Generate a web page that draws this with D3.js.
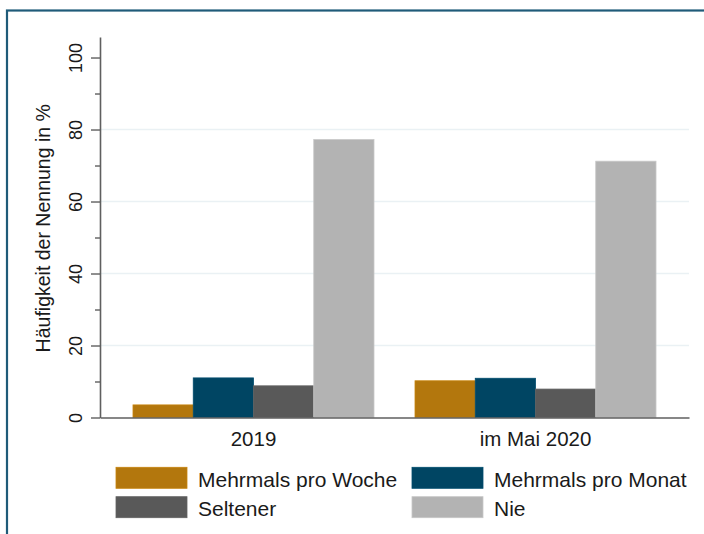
<!DOCTYPE html>
<html>
<head>
<meta charset="utf-8">
<script src="https://cdn.jsdelivr.net/npm/d3@7"></script>
<style>
  body { margin: 0; background: #fff; }
  svg { display: block; font-family: "Liberation Sans", Arial, sans-serif; }
</style>
</head>
<body>
<svg id="chart" width="704" height="534"></svg>
<script>
// data
const groups = ["2019", "im Mai 2020"];
const series = ["Mehrmals pro Woche", "Mehrmals pro Monat", "Seltener", "Nie"];
const colors = ["#b3770d", "#004563", "#595959", "#b3b3b3"];
const values2019 = [3.5, 11.0, 8.8, 77.2];
const values2020 = [10.2, 10.9, 7.9, 71.2];
const majorTicks = [0, 20, 40, 60, 80, 100];
const minorTicks = [10, 30, 50, 70, 90];
const gridTicks = [20, 40, 60, 80];
const yTitle = "Häufigkeit der Nennung in %";

const allValues = [values2019, values2020];

const svg = d3.select("#chart");
const plotLeft = 100, plotRight = 689, plotTop = 37, plotBottom = 417.5;

// outer frame
svg.append("rect")
  .attr("x", 7)
  .attr("y", 10.5)
  .attr("width", 760)
  .attr("height", 600)
  .attr("fill", "none")
  .attr("stroke", "#1f5b79")
  .attr("stroke-width", 2.2);

const x0 = d3.scaleBand()
  .domain(groups)
  .range([plotLeft, plotRight])
  .paddingInner(0.1454)
  .paddingOuter(0.117);

const x1 = d3.scaleBand()
  .domain(series)
  .range([0, x0.bandwidth()]);

const y = d3.scaleLinear()
  .domain([0, 105.7])
  .range([plotBottom, plotTop]);

// gridlines
svg.append("g")
  .selectAll("line")
  .data(gridTicks)
  .enter()
  .append("line")
  .attr("x1", plotLeft)
  .attr("x2", plotRight)
  .attr("y1", (d) => y(d))
  .attr("y2", (d) => y(d))
  .attr("stroke", "#eaf1f4")
  .attr("stroke-width", 1.5);

// bars
const groupG = svg.append("g")
  .selectAll("g")
  .data(groups)
  .enter()
  .append("g")
  .attr("transform", (d) => `translate(${x0(d)},0)`);

groupG.selectAll("rect")
  .data((d, i) => allValues[i].map((v, j) => ({ key: series[j], value: v, color: colors[j] })))
  .enter()
  .append("rect")
  .attr("x", (d) => x1(d.key))
  .attr("width", x1.bandwidth())
  .attr("y", (d) => y(d.value))
  .attr("height", (d) => y(0) - y(d.value))
  .attr("fill", (d) => d.color)
  .attr("stroke", (d) => d3.color(d.color).brighter(0.3))
  .attr("stroke-width", 0.8);

// y axis, major
const yAxis = svg.append("g")
  .attr("transform", `translate(${plotLeft},0)`)
  .call(d3.axisLeft(y).tickValues(majorTicks).tickSize(9).tickSizeOuter(0));
yAxis.select(".domain").attr("stroke", "#5f5f5f").attr("stroke-width", 1.6);
yAxis.selectAll(".tick line").attr("stroke", "#5f5f5f").attr("stroke-width", 1.4);
yAxis.selectAll(".tick text")
  .attr("x", null)
  .attr("dy", null)
  .attr("transform", "translate(-18.3,0) rotate(-90)")
  .attr("text-anchor", "middle")
  .attr("fill", "#1a1a1a")
  .style("font-size", "18px");

// y axis, minor
const yMinor = svg.append("g")
  .attr("transform", `translate(${plotLeft},0)`)
  .call(d3.axisLeft(y).tickValues(minorTicks).tickSize(5).tickFormat(""));
yMinor.select(".domain").remove();
yMinor.selectAll(".tick line").attr("stroke", "#5f5f5f").attr("stroke-width", 1.4);

// x axis
const xAxis = svg.append("g")
  .attr("transform", `translate(0,${plotBottom})`)
  .call(d3.axisBottom(x0).tickSize(0).tickSizeOuter(0));
xAxis.select(".domain").attr("stroke", "#5f5f5f").attr("stroke-width", 1.6);
xAxis.selectAll(".tick text")
  .attr("y", 28.5)
  .attr("dy", null)
  .attr("fill", "#1a1a1a")
  .style("font-size", "20.5px");

// y title
svg.append("text")
  .attr("transform", `translate(50,${(plotTop + plotBottom) / 2 + 1}) rotate(-90)`)
  .attr("text-anchor", "middle")
  .attr("fill", "#1a1a1a")
  .style("font-size", "19.5px")
  .text(yTitle);

// legend
const legendX = [116, 412];
const legendY = [467.3, 496.7];
const legend = svg.append("g")
  .selectAll("g")
  .data(series)
  .enter()
  .append("g")
  .attr("transform", (d, i) => `translate(${legendX[i % 2]},${legendY[Math.floor(i / 2)]})`);
legend.append("rect")
  .attr("width", 71)
  .attr("height", 21)
  .attr("fill", (d, i) => colors[i])
  .attr("stroke", (d, i) => d3.color(colors[i]).brighter(0.3))
  .attr("stroke-width", 0.8);
legend.append("text")
  .attr("x", 82)
  .attr("y", 19.4)
  .attr("fill", "#1a1a1a")
  .style("font-size", "21px")
  .text((d) => d);
</script>
</body>
</html>
